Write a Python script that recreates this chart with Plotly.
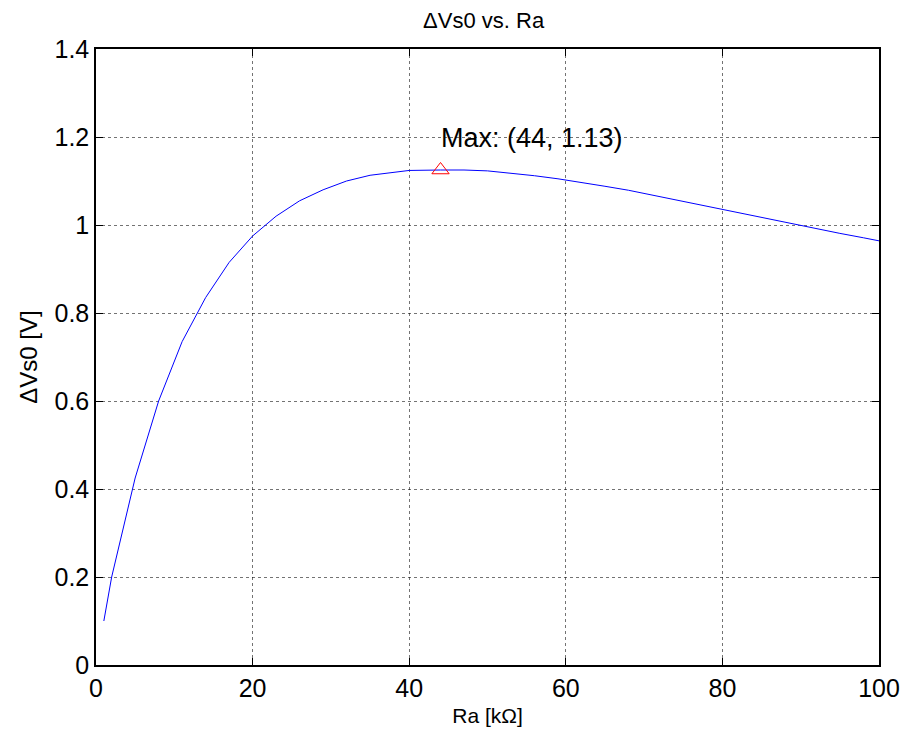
import plotly.graph_objects as go

ra_k = [1, 2, 5, 8, 11, 14, 17, 20, 23, 26, 29, 32, 35, 38, 40, 44, 47, 50, 53, 56, 59,
        62, 65, 68, 71, 74, 77, 80, 83, 86, 89, 92, 95, 98, 100]
dvs0 = [0.10, 0.20, 0.425, 0.60, 0.735, 0.835, 0.915, 0.975, 1.02, 1.055, 1.08, 1.10,
        1.113, 1.12, 1.124, 1.125, 1.125, 1.123, 1.118, 1.112, 1.105, 1.097, 1.088,
        1.079, 1.068, 1.058, 1.047, 1.036, 1.025, 1.014, 1.003, 0.992, 0.981, 0.971, 0.964]
max_x = [44]
max_y = [1.125]
max_label = "Max: (44, 1.13)"

x_ticks = [0, 20, 40, 60, 80, 100]
x_ticktext = ["0", "20", "40", "60", "80", "100"]
y_ticks = [0, 0.2, 0.4, 0.6, 0.8, 1.0, 1.2, 1.4]
y_ticktext = ["0", "0.2", "0.4", "0.6", "0.8", "1", "1.2", "1.4"]

FONT = "Liberation Sans, Arial, sans-serif"

fig = go.Figure()
fig.add_trace(go.Scatter(x=ra_k, y=dvs0, mode="lines",
                         line=dict(color="#0000FF", width=1), showlegend=False))
fig.add_trace(go.Scatter(x=max_x, y=max_y, mode="markers",
                         marker=dict(symbol="triangle-up-open", size=15,
                                     color="#FF0000", line=dict(width=1, color="#FF0000")),
                         showlegend=False))
fig.add_annotation(x=max_x[0], y=max_y[0], text=max_label, showarrow=False,
                   xanchor="left", yanchor="middle", xshift=-2, yshift=32,
                   font=dict(family=FONT, size=27, color="black"))

axis_common = dict(showline=True, linecolor="black", linewidth=1.5, mirror="ticks",
                   ticks="inside", ticklen=7, tickcolor="black", tickwidth=1,
                   showgrid=True, gridcolor="rgba(0,0,0,0.55)", griddash="dot", gridwidth=1,
                   zeroline=False, automargin=False,
                   tickfont=dict(family=FONT, size=25, color="black"))

fig.update_xaxes(range=[0, 100], tickvals=x_ticks, ticktext=x_ticktext,
                 title=dict(text="Ra [kΩ]", font=dict(family=FONT, size=21, color="black"),
                            standoff=8),
                 **axis_common)
fig.update_yaxes(range=[0, 1.4], tickvals=y_ticks, ticktext=y_ticktext,
                 title=dict(text="ΔVs0 [V]", font=dict(family=FONT, size=24, color="black"),
                            standoff=10),
                 **axis_common)

fig.update_layout(
    width=904, height=733,
    margin=dict(l=96, r=25, t=49, b=68, autoexpand=False),
    paper_bgcolor="white", plot_bgcolor="white",
    title=dict(text="ΔVs0 vs. Ra", x=0.535, xanchor="center", y=0.972, yanchor="middle",
               font=dict(family=FONT, size=22, color="black")),
)

fig.write_html("out.html")
